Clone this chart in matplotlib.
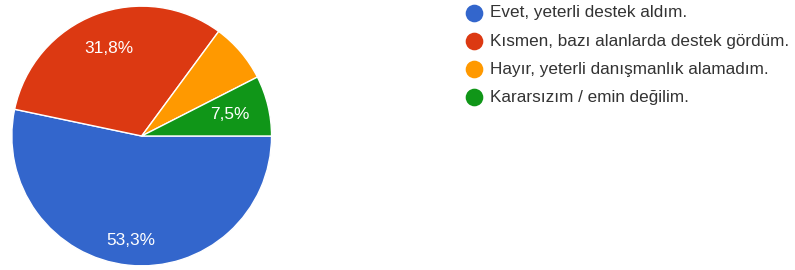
import matplotlib
matplotlib.use("Agg")
import numpy as np
import matplotlib.pyplot as plt

categories = ["Evet, yeterli destek aldım.",
              "Kısmen, bazı alanlarda destek gördüm.",
              "Hayır, yeterli danışmanlık alamadım.",
              "Kararsızım / emin değilim."]
values = [53.3, 31.8, 7.4, 7.5]
pct_labels = ["53,3%", "31,8%", "", "7,5%"]
colors = ["#3366CC", "#DC3912", "#FF9900", "#109618"]
label_dist = [0.81, 0.72, 0.72, 0.70]

plt.rcParams['font.family'] = ['Liberation Sans', 'DejaVu Sans']

W, H = 795, 270
fig = plt.figure(figsize=(W / 100, H / 100), dpi=100)
fig.patch.set_facecolor("white")

cx, cy, r = 141.7, 136, 130.5
ax = fig.add_axes([(cx - r) / W, (H - cy - r) / H, 2 * r / W, 2 * r / H])
wedges, _ = ax.pie(values, colors=colors, startangle=0, counterclock=False,
                   radius=1.0,
                   wedgeprops=dict(edgecolor="white", linewidth=1.0))
for w, lab, d in zip(wedges, pct_labels, label_dist):
    if not lab:
        continue
    ang = np.deg2rad((w.theta1 + w.theta2) / 2)
    ax.text(d * np.cos(ang), d * np.sin(ang), lab, color="white", fontsize=12.4,
            ha="center", va="center")
ax.set_xlim(-1.005, 1.005)
ax.set_ylim(-1.005, 1.005)
ax.set_aspect("equal")
ax.axis("off")

# legend
lax = fig.add_axes([0, 0, 1, 1])
lax.set_xlim(0, W)
lax.set_ylim(H, 0)
lax.axis("off")
ys = [12.5, 40.6, 68.7, 96.8]
for y, c, lab in zip(ys, colors, categories):
    lax.plot([473.8], [y], marker="o", markersize=12.7, color=c, markeredgewidth=0)
    lax.text(490.5, y + 0.5, lab, fontsize=12.3, color="#333333", ha="left", va="center")

fig.savefig("out.png", dpi=100, facecolor="white")
